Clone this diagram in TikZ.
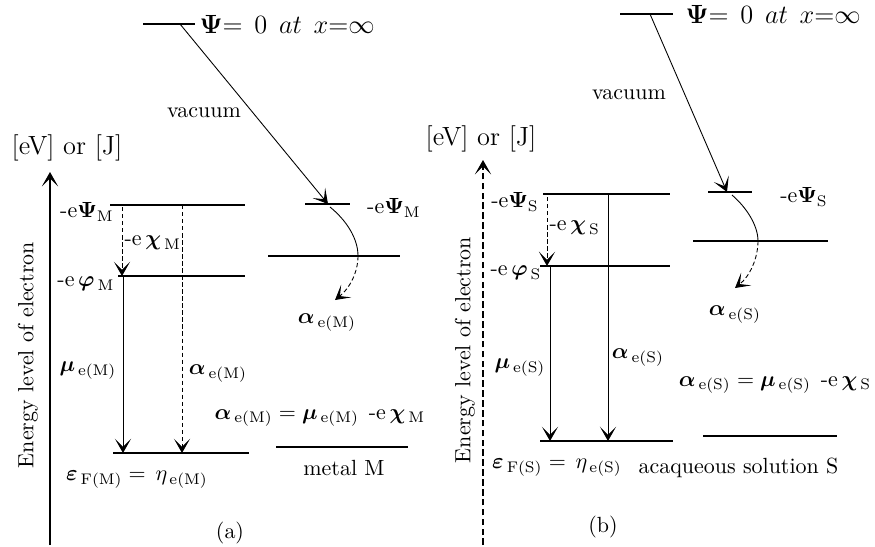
\documentclass[tikz,border=0pt]{standalone}
\usepackage{amsmath,amssymb}
\usepackage{bm}
\usepackage{tikz}
\usetikzlibrary{arrows.meta}
\tikzset{
  lvl/.style={line width=0.6pt},
  ar/.style={line width=0.4pt,-{Stealth[length=2.3mm,width=2.6mm,inset=1.3mm]}},
  dar/.style={ar,dash pattern=on 2pt off 1.2pt},
  ax/.style={line width=0.5pt,-{Stealth[length=2.3mm,width=2.6mm,inset=1.3mm]}},
  lbl/.style={inner sep=1pt}
}
\newcommand{\alE}[1]{\bm{\alpha}_{\,\mathrm{e(#1)}}}
\newcommand{\muE}[1]{\bm{\mu}_{\,\mathrm{e(#1)}}}
\newcommand{\etE}[1]{\eta_{\,\mathrm{e(#1)}}}
\newcommand{\epF}[1]{\bm{\varepsilon}_{\,\mathrm{F(#1)}}}
\newcommand{\chiE}[1]{\text{-e}\,\bm{\chi}_{\,\mathrm{#1}}}
\newcommand{\psiE}[1]{\text{-e}\bm{\Psi}_{\mathrm{#1}}}
\newcommand{\phiE}[1]{\text{-e}\,\bm{\varphi}_{\,\mathrm{#1}}}
\newcommand{\zerotxt}{\large$\bm{\Psi}{=}\;\,0\;\,at\;\,x{=}\infty$}

\begin{document}
\begin{tikzpicture}[x=0.016cm,y=-0.016cm]
\useasboundingbox (0,0) rectangle (875,546);
% ---- (a) metal M
\coordinate (a0l) at (143,24); \coordinate (a0r) at (195,24); \coordinate (a0v) at (180,24);
\draw[lvl] (a0l) -- (a0r); \node[anchor=west,lbl] (a0t) at (197,24) {\zerotxt};
\coordinate (aPl) at (305,204); \coordinate (aPr) at (350,204); \coordinate (aPv) at (328,204);
\draw[lvl] (aPl) -- (aPr); \node[lbl] (aPt) at (394,208) {$\psiE{M}$};
\draw[ar] (a0v) -- (aPv); \node (avac) at (204,113) {vacuum};
\coordinate (aSl) at (268,256); \coordinate (aSr) at (400,256); \coordinate (aSm) at (358,256);
\draw[lvl] (aSl) -- (aSr);
\coordinate (aPc) at (330,207); \coordinate (aEnd) at (335,300);
\draw[line width=0.4pt] (aPc) .. controls (346,220) and (358,238) .. (aSm);
\draw[dar] (aSm) .. controls (358,272) and (350,288) .. (aEnd);
\node[lbl] (aAlc) at (327,323) {$\alE{M}$};
\node (aunit) at (67,148) {\large [eV] or [J]};
\coordinate (axa0) at (50,545); \coordinate (axa1) at (50,172);
\draw[ax] (axa0) -- (axa1);
\node[rotate=90] (aen) at (28,355) {Energy level of electron};
\coordinate (aPsl) at (110,205); \coordinate (aPsr) at (245,205);
\coordinate (aPhl) at (118,276); \coordinate (aPhr) at (245,276);
\coordinate (aFl) at (113,453); \coordinate (aFr) at (249,453);
\draw[lvl] (aPsl) -- (aPsr); \draw[lvl] (aPhl) -- (aPhr); \draw[lvl] (aFl) -- (aFr);
\node[lbl] (aPsi) at (87,212) {$\psiE{M}$};
\node[lbl] (aPhi) at (86,284) {$\phiE{M}$};
\node[lbl,anchor=west] (aChi) at (122,243) {$\chiE{M}$};
\coordinate (ac0) at (122,207); \coordinate (ac1) at (122,276);
\draw[dar] (ac0) -- (ac1);
\coordinate (am0) at (123,276); \coordinate (am1) at (123,453);
\draw[ar] (am0) -- (am1); \node[lbl] (aMu) at (88,371) {$\muE{M}$};
\coordinate (aa0) at (182,205); \coordinate (aa1) at (182,453);
\draw[dar] (aa0) -- (aa1); \node[lbl] (aAl) at (218,374) {$\alE{M}$};
\node[lbl] (aFer) at (137,480) {$\epF{M}=\,\etE{M}$};
\node[lbl] (aEq) at (320,418) {$\alE{M}=\muE{M}\;\,\chiE{M}$};
\coordinate (aMl) at (276,447); \coordinate (aMr) at (408,447);
\draw[lvl] (aMl) -- (aMr); \node (amet) at (344,468) {metal M};
\node (acap) at (230,533) {(a)};
% ---- (b) aqueous solution S
\coordinate (b0l) at (620,14); \coordinate (b0r) at (673,14); \coordinate (b0v) at (650,14);
\draw[lvl] (b0l) -- (b0r); \node[anchor=west,lbl] (b0t) at (683,14) {\zerotxt};
\coordinate (bPl) at (708,192); \coordinate (bPr) at (752,192); \coordinate (bPv) at (727,192);
\draw[lvl] (bPl) -- (bPr); \node[lbl] (bPt) at (804,197) {$\psiE{S}$};
\draw[ar] (b0v) -- (bPv); \node (bvac) at (629,95) {vacuum};
\coordinate (bSl) at (693,241); \coordinate (bSr) at (828,241); \coordinate (bSm) at (758,241);
\draw[lvl] (bSl) -- (bSr);
\coordinate (bPc) at (732,195); \coordinate (bEnd) at (735,288);
\draw[line width=0.4pt] (bPc) .. controls (746,207) and (758,225) .. (bSm);
\draw[dar] (bSm) .. controls (758,258) and (750,276) .. (bEnd);
\node[lbl] (bAlc) at (735,315) {$\alE{S}$};
\node (bunit) at (481,139) {\large [eV] or [J]};
\coordinate (axb0) at (483,545); \coordinate (axb1) at (483,160);
\draw[ax,dash pattern=on 3pt off 1.5pt] (axb0) -- (axb1);
\node[rotate=90] (ben) at (465,350) {Energy level of electron};
\coordinate (bPsl) at (543,194); \coordinate (bPsr) at (670,194);
\coordinate (bPhl) at (540,266); \coordinate (bPhr) at (670,266);
\coordinate (bFl) at (540,441); \coordinate (bFr) at (673,441);
\draw[lvl] (bPsl) -- (bPsr); \draw[lvl] (bPhl) -- (bPhr); \draw[lvl] (bFl) -- (bFr);
\node[lbl] (bPsi) at (515,202) {$\psiE{S}$};
\node[lbl] (bPhi) at (516,273) {$\phiE{S}$};
\node[lbl,anchor=west] (bChi) at (547,228) {$\chiE{S}$};
\coordinate (bc0) at (547,197); \coordinate (bc1) at (547,266);
\draw[dar] (bc0) -- (bc1);
\coordinate (bm0) at (550,266); \coordinate (bm1) at (550,441);
\draw[ar] (bm0) -- (bm1); \node[lbl] (bMu) at (520,368) {$\muE{S}$};
\coordinate (ba0) at (608,194); \coordinate (ba1) at (608,441);
\draw[ar] (ba0) -- (ba1); \node[lbl] (bAl) at (638,358) {$\alE{S}$};
\node[lbl] (bFer) at (557,468) {$\epF{S}=\,\etE{S}$};
\node[lbl,anchor=west] (bsol) at (636,468) {acaqueous solution S};
\node[lbl] (bEq) at (775,385) {$\alE{S}=\muE{S}\;\,\chiE{S}$};
\coordinate (bMl) at (703,436); \coordinate (bMr) at (837,436);
\draw[lvl] (bMl) -- (bMr);
\node (bcap) at (603,527) {(b)};
\end{tikzpicture}
\end{document}
